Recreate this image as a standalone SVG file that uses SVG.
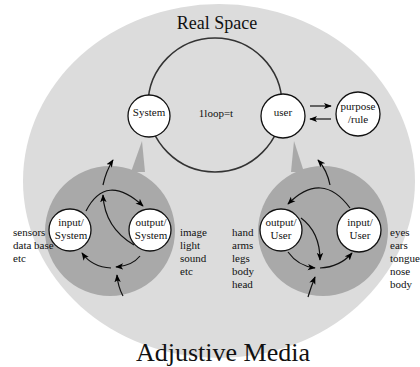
<svg xmlns="http://www.w3.org/2000/svg" width="420" height="367" viewBox="0 0 420 367">
<defs>
<marker id="ah" viewBox="0 0 10 10" refX="9" refY="5" markerWidth="8" markerHeight="8" markerUnits="userSpaceOnUse" orient="auto">
<path d="M0,1 L10,5 L0,9 L2.5,5 Z" fill="#000"/>
</marker>
<style>
.t{font-family:"Liberation Serif","Times New Roman",serif;fill:#111}
.s{font-size:11px}
.n{fill:#fff;stroke:#111;stroke-width:1.3}
.a{fill:none;stroke:#111;stroke-width:1.2;marker-end:url(#ah)}
</style>
</defs>
<rect width="420" height="367" fill="#fff"/>
<ellipse id="real-space" cx="219" cy="181" rx="196" ry="177" fill="#dcdcdc"/>
<g id="bubble-system" fill="#a9a9a9">
<circle cx="110" cy="231" r="65"/>
<polygon points="131,172 142,141 145,172"/>
</g>
<g id="bubble-user" fill="#a9a9a9">
<circle cx="323" cy="231" r="65"/>
<polygon points="291,172 294,141 304,172"/>
</g>
<circle id="loop" cx="215" cy="105" r="67" fill="none" stroke="#333" stroke-width="1.5"/>
<g id="connectors">
<path class="a" d="M310,106 L331,106"/>
<path class="a" d="M331,119 L310,119"/>
<path class="a" d="M86,211 Q106,172 143,206"/>
<path class="a" d="M134,245 C112,232 104,215 103,195"/>
<path class="a" d="M103,185 Q106,171 113,160"/>
<path class="a" d="M140,256 Q132,266 116,267"/>
<path class="a" d="M111,268 Q92,267 82,253"/>
<path class="a" d="M123,296 Q118,287 117,275"/>
<path class="a" d="M350,208 Q322,170 288,204"/>
<path class="a" d="M330,185 Q327,170 318,160"/>
<path class="a" d="M301,218 Q320,232 320,260"/>
<path class="a" d="M288,252 Q298,266 315,268"/>
<path class="a" d="M320,268 Q340,267 352,253"/>
<path class="a" d="M308,297 Q311,287 315,277"/>
</g>
<g id="node-system"><circle class="n" cx="149" cy="116" r="21"/><text class="t s" x="149" y="116" text-anchor="middle">System</text></g>
<g id="node-user"><circle class="n" cx="283" cy="116" r="22"/><text class="t s" x="283" y="116" text-anchor="middle">user</text></g>
<g id="node-purpose"><circle class="n" cx="358" cy="114" r="22"/><text class="t s" x="358" y="110" text-anchor="middle">purpose</text><text class="t s" x="358" y="123" text-anchor="middle">/rule</text></g>
<g id="node-input-system"><circle class="n" cx="70" cy="230" r="21"/><text class="t s" x="71" y="226" text-anchor="middle">input/</text><text class="t s" x="71" y="239" text-anchor="middle">System</text></g>
<g id="node-output-system"><circle class="n" cx="150" cy="230" r="21"/><text class="t s" x="151" y="226" text-anchor="middle">output/</text><text class="t s" x="151" y="239" text-anchor="middle">System</text></g>
<g id="node-output-user"><circle class="n" cx="281" cy="230" r="21"/><text class="t s" x="281" y="226" text-anchor="middle">output/</text><text class="t s" x="281" y="239" text-anchor="middle">User</text></g>
<g id="node-input-user"><circle class="n" cx="359" cy="230" r="22"/><text class="t s" x="360" y="226" text-anchor="middle">input/</text><text class="t s" x="360" y="239" text-anchor="middle">User</text></g>
<text class="t" x="217" y="29" font-size="18" text-anchor="middle">Real Space</text>
<text class="t s" x="216" y="117" text-anchor="middle">1loop=t</text>
<text class="t s"><tspan x="13" y="236">sensors</tspan><tspan x="13" y="249">data base</tspan><tspan x="13" y="262">etc</tspan></text>
<text class="t s"><tspan x="180" y="236">image</tspan><tspan x="180" y="249">light</tspan><tspan x="180" y="262">sound</tspan><tspan x="180" y="275">etc</tspan></text>
<text class="t s"><tspan x="232" y="236">hand</tspan><tspan x="232" y="249">arms</tspan><tspan x="232" y="262">legs</tspan><tspan x="232" y="275">body</tspan><tspan x="232" y="288">head</tspan></text>
<text class="t s"><tspan x="390" y="236">eyes</tspan><tspan x="390" y="249">ears</tspan><tspan x="390" y="262">tongue</tspan><tspan x="390" y="275">nose</tspan><tspan x="390" y="288">body</tspan></text>
<text class="t" x="223" y="361" font-size="26" text-anchor="middle">Adjustive Media</text>
</svg>
